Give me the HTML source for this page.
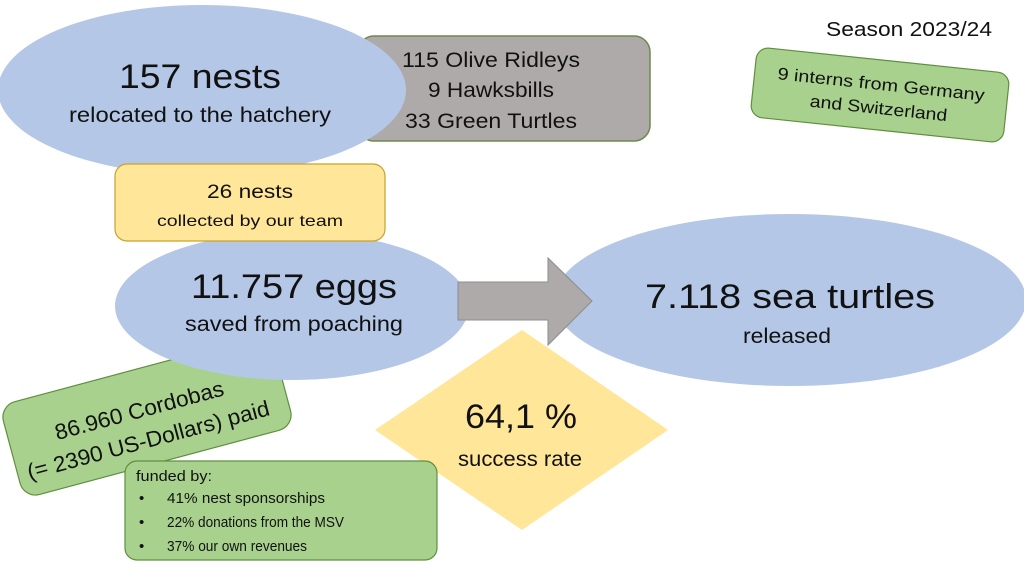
<!DOCTYPE html>
<html><head><meta charset="utf-8"><style>
html,body{margin:0;padding:0;background:#fff;width:1024px;height:568px;overflow:hidden}
svg{display:block}
text{font-family:"Liberation Sans",sans-serif;fill:#111;text-anchor:middle}
</style></head><body>
<svg width="1024" height="568" viewBox="0 0 1024 568" xmlns="http://www.w3.org/2000/svg">
<rect x="358" y="36" width="292" height="105" rx="16" fill="#aeaaaa" stroke="#6d8a4c" stroke-width="1.5"/>
<text x="491" y="67" font-size="21" textLength="178" lengthAdjust="spacingAndGlyphs">115 Olive Ridleys</text>
<text x="491" y="97" font-size="21" textLength="126" lengthAdjust="spacingAndGlyphs">9 Hawksbills</text>
<text x="491" y="128" font-size="21" textLength="172" lengthAdjust="spacingAndGlyphs">33 Green Turtles</text>
<ellipse cx="202" cy="90" rx="204" ry="85" fill="#b4c7e7"/>
<text x="200" y="88" font-size="34" textLength="162" lengthAdjust="spacingAndGlyphs">157 nests</text>
<text x="200" y="122" font-size="21" textLength="262" lengthAdjust="spacingAndGlyphs">relocated to the hatchery</text>
<g transform="translate(147,416) rotate(-15)">
<rect x="-140" y="-48" width="280" height="96" rx="16" fill="#a9d18e" stroke="#5f8f3e" stroke-width="1.2"/>
</g>
<ellipse cx="292" cy="306" rx="177" ry="74" fill="#b4c7e7"/>
<g transform="translate(147,416) rotate(-15)">
<text x="-6" y="0" font-size="22" textLength="174" lengthAdjust="spacingAndGlyphs">86.960 Cordobas</text>
<text x="-5" y="31" font-size="22" textLength="250" lengthAdjust="spacingAndGlyphs">(= 2390 US-Dollars) paid</text>
</g>
<rect x="115" y="164" width="270" height="77" rx="12" fill="#ffe699" stroke="#c9a227" stroke-width="1.2"/>
<text x="250" y="198" font-size="19" textLength="86" lengthAdjust="spacingAndGlyphs">26 nests</text>
<text x="250" y="226" font-size="16" textLength="186" lengthAdjust="spacingAndGlyphs">collected by our team</text>
<text x="294" y="298" font-size="34" textLength="206" lengthAdjust="spacingAndGlyphs">11.757 eggs</text>
<text x="294" y="331" font-size="21" textLength="218" lengthAdjust="spacingAndGlyphs">saved from poaching</text>
<ellipse cx="790" cy="300" rx="236" ry="86" fill="#b4c7e7"/>
<polygon points="458,282 548,282 548,258 592,301 548,345 548,320 458,320" fill="#aeaaaa" stroke="#8c8c8c" stroke-width="1"/>
<text x="790" y="308" font-size="34" textLength="290" lengthAdjust="spacingAndGlyphs">7.118 sea turtles</text>
<text x="787" y="343" font-size="21" textLength="88" lengthAdjust="spacingAndGlyphs">released</text>
<polygon points="522,330 668,430 522,530 375,430" fill="#ffe699"/>
<text x="521" y="428" font-size="34" textLength="112" lengthAdjust="spacingAndGlyphs">64,1 %</text>
<text x="520" y="466" font-size="21" textLength="124" lengthAdjust="spacingAndGlyphs">success rate</text>
<rect x="125" y="461" width="312" height="99" rx="12" fill="#a9d18e" stroke="#5f8f3e" stroke-width="1.2"/>
<text x="136" y="481" font-size="15" style="text-anchor:start" textLength="76" lengthAdjust="spacingAndGlyphs">funded by:</text>
<text x="139" y="503" font-size="15" style="text-anchor:start">•</text>
<text x="167" y="503" font-size="15" style="text-anchor:start" textLength="158" lengthAdjust="spacingAndGlyphs">41% nest sponsorships</text>
<text x="139" y="527" font-size="15" style="text-anchor:start">•</text>
<text x="167" y="527" font-size="15" style="text-anchor:start" textLength="177" lengthAdjust="spacingAndGlyphs">22% donations from the MSV</text>
<text x="139" y="551" font-size="15" style="text-anchor:start">•</text>
<text x="167" y="551" font-size="15" style="text-anchor:start" textLength="140" lengthAdjust="spacingAndGlyphs">37% our own revenues</text>
<text x="909" y="36" font-size="20" textLength="166" lengthAdjust="spacingAndGlyphs">Season 2023/24</text>
<g transform="translate(880,95) rotate(6)">
<rect x="-127" y="-35" width="254" height="70" rx="12" fill="#a9d18e" stroke="#5f8f3e" stroke-width="1.2"/>
<text x="0" y="-5" font-size="17" textLength="208" lengthAdjust="spacingAndGlyphs">9 interns from Germany</text>
<text x="0" y="19" font-size="17" textLength="138" lengthAdjust="spacingAndGlyphs">and Switzerland</text>
</g>
</svg>
</body></html>
